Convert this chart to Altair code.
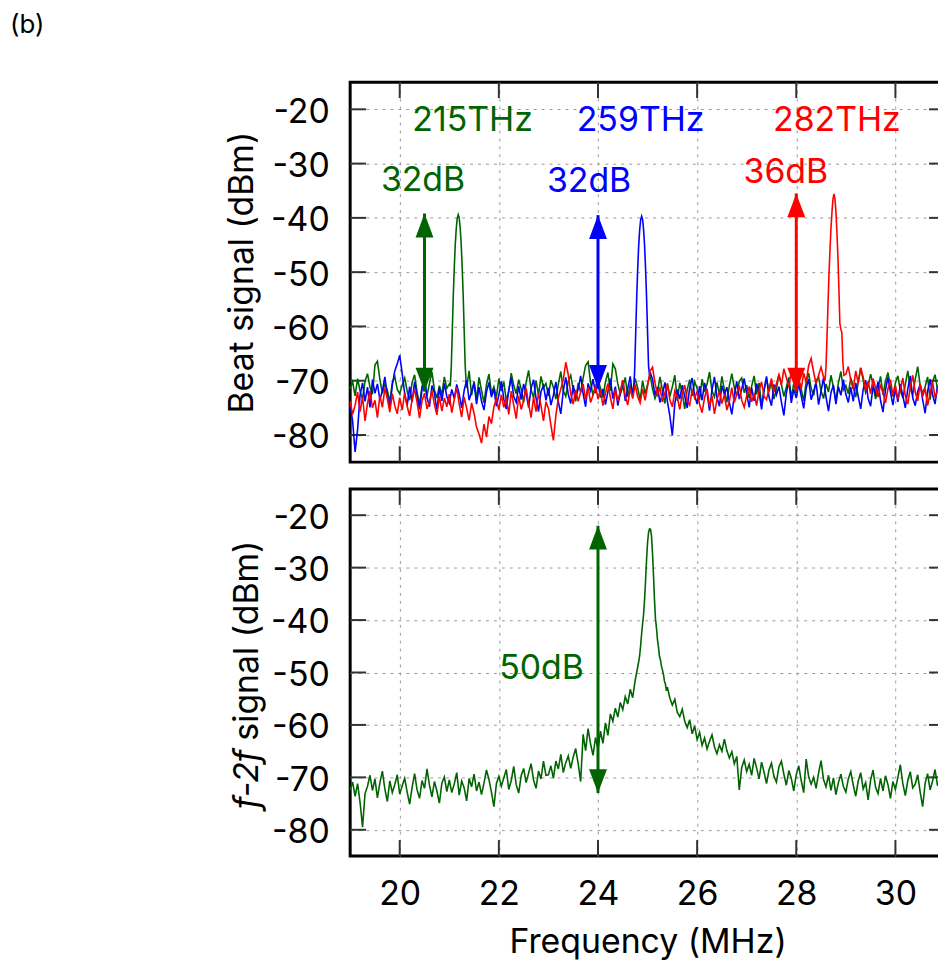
import altair as alt
import pandas as pd

FONT = "Inter"
GREEN = "#006400"
BLUE = "#0000ff"
RED = "#ff0000"

W = 598
H_TOP = 382
H_BOT = 369
TICK_LEN = 16
FS = 34
TFS = 34

x_domain = [19, 31]
y_domain = [-85, -15]
x_ticks = [20, 22, 24, 26, 28, 30]
y_ticks = [-80, -70, -60, -50, -40, -30, -20]

FREQ_START = 19.0
FREQ_STEP = 0.05
PEAK_STEP = 0.02

# ---- top panel: beat signals (dBm), 19.00 .. 31.00 MHz every 0.05 MHz ----
green_top = [
    -71.5, -70.2, -72.8, -69.6, -71.9, -73.4, -70.1, -68.7, -71.2, -72.5, -67.1, -66.4, -69.8, -72.3, -70.6, -71.8, -73.9, -70.4, -69.2, -71.6,
    -72.4, -70.8, -69.5, -71.9, -73.6, -70.3, -68.9, -72.1, -74.4, -71.0, -69.7, -72.8, -70.5, -68.4, -71.7, -73.2, -70.9, -72.6, -69.3, -71.4,
    -70.6, -69.9, -70.0, -70.0, -70.0, -70.0, -70.0, -71.3, -68.2, -72.7, -70.1, -73.5, -69.4, -71.8, -74.1, -70.7, -68.8, -72.3, -71.1, -73.0,
    -69.6, -71.9, -70.2, -73.7, -72.0, -68.6, -70.9, -72.4, -69.8, -71.5, -74.0, -70.3, -68.1, -71.7, -73.1, -70.0, -72.6, -69.2, -71.3, -70.5,
    -72.8, -69.9, -71.2, -73.4, -70.6, -68.3, -71.8, -72.9, -70.1, -69.0, -71.6, -73.8, -70.4, -72.2, -69.5, -67.2, -66.5, -70.3, -72.7, -71.0,
    -69.7, -71.4, -73.1, -70.2, -68.5, -71.9, -66.9, -67.8, -70.6, -72.5, -71.2, -69.4, -73.0, -70.8, -72.1, -69.6, -71.3, -73.6, -70.0, -72.4,
    -70.7, -68.9, -71.5, -73.3, -72.0, -69.3, -71.8, -74.2, -70.5, -72.9, -71.1, -69.0, -73.7, -70.4, -72.3, -75.2, -71.6, -69.8, -72.8, -70.2,
    -71.4, -73.5, -69.7, -72.1, -70.6, -68.4, -71.9, -73.0, -70.3, -72.6, -69.2, -71.7, -74.0, -70.9, -68.7, -71.3, -72.8, -70.1, -69.5, -72.2,
    -70.8, -73.2, -71.0, -69.1, -72.5, -70.4, -74.6, -71.7, -69.6, -72.0, -70.3, -73.4, -71.5, -68.9, -70.7, -72.9, -71.2, -69.4, -73.1, -70.5,
    -72.3, -69.8, -71.6, -73.7, -70.2, -68.6, -71.4, -72.7, -70.0, -69.3, -71.9, -73.3, -70.6, -72.1, -69.0, -71.2, -73.8, -70.4, -68.3, -71.7,
    -70.9, -72.4, -69.5, -71.1, -73.0, -70.3, -67.6, -69.9, -72.2, -71.0, -68.8, -70.7, -73.4, -71.5, -69.2, -72.6, -70.1, -68.5, -71.3, -72.9,
    -70.4, -69.1, -71.8, -73.2, -70.7, -68.2, -71.4, -72.6, -69.7, -67.4, -70.9, -72.3, -71.1, -69.3, -73.5, -70.2, -68.9, -71.6, -72.0, -70.5,
    -71.2,
]
blue_top = [
    -74.2, -77.5, -83.1, -79.0, -72.6, -70.4, -73.8, -71.2, -74.9, -69.8, -72.3, -70.6, -73.5, -71.9, -69.3, -72.7, -75.1, -70.8, -68.2, -66.9,
    -65.3, -68.7, -72.4, -74.6, -71.1, -73.9, -70.2, -72.8, -75.3, -71.5, -69.6, -73.1, -74.8, -70.9, -72.2, -75.6, -71.3, -73.7, -70.5, -72.9,
    -74.1, -71.6, -73.3, -70.7, -72.5, -75.0, -71.8, -69.9, -73.6, -72.0, -70.4, -74.3, -71.2, -73.8, -75.4, -72.1, -70.3, -73.0, -71.5, -74.7,
    -72.6, -70.1, -73.4, -75.2, -71.7, -69.5, -72.9, -74.0, -71.0, -73.5, -70.6, -72.3, -74.9, -71.4, -69.8, -73.2, -75.7, -72.0, -70.9, -73.6,
    -71.3, -74.5, -72.7, -70.2, -73.9, -76.1, -71.8, -69.4, -72.5, -74.2, -70.8, -73.0, -71.6, -69.1, -72.4, -74.8, -70.5, -71.9, -69.7, -72.3,
    -70.4, -73.1, -71.5, -74.4, -72.0, -69.6, -73.3, -71.1, -74.6, -72.2, -70.0, -73.7, -71.4, -69.2, -72.8, -70.0, -70.0, -70.0, -70.0, -70.0,
    -70.0, -68.4, -69.7, -72.6, -71.2, -74.0, -72.5, -70.3, -73.8, -76.5, -80.1, -74.2, -71.6, -73.4, -70.8, -72.9, -75.0, -71.3, -69.5, -72.7,
    -74.3, -71.0, -73.6, -70.4, -72.2, -75.5, -71.7, -69.3, -73.1, -74.7, -70.9, -72.5, -71.2, -74.0, -76.2, -72.8, -70.1, -73.4, -71.5, -69.6,
    -72.4, -74.9, -71.3, -73.7, -70.5, -72.1, -75.3, -71.8, -69.2, -73.0, -74.6, -70.7, -72.6, -71.1, -73.9, -76.4, -72.3, -70.0, -74.1, -71.6,
    -73.2, -70.6, -72.8, -75.1, -71.4, -69.7, -73.5, -72.0, -70.3, -74.4, -71.9, -69.5, -73.0, -75.6, -72.2, -70.8, -74.3, -71.1, -72.7, -69.8,
    -72.5, -74.0, -71.2, -73.8, -70.4, -72.9, -75.2, -71.6, -69.9, -73.3, -74.7, -71.0, -72.4, -70.2, -73.6, -75.8, -71.7, -69.4, -72.1, -74.5,
    -71.3, -73.9, -70.6, -72.8, -75.0, -71.5, -69.1, -73.2, -74.6, -72.0, -70.7, -73.5, -76.0, -71.9, -69.7, -72.6, -74.3, -70.9, -73.1, -71.4,
    -72.2,
]
red_top = [
    -73.8, -76.2, -74.5, -72.1, -75.7, -73.0, -77.4, -74.2, -71.9, -75.0, -73.6, -76.8, -72.7, -74.9, -71.4, -73.3, -75.8, -72.4, -74.6, -76.1,
    -73.1, -75.4, -72.2, -74.7, -76.5, -73.4, -71.6, -74.0, -76.9, -73.7, -72.3, -75.2, -73.9, -71.8, -74.4, -76.3, -72.9, -75.6, -73.2, -74.8,
    -72.5, -75.9, -73.5, -71.2, -74.3, -76.7, -73.0, -75.1, -77.3, -74.1, -76.0, -78.6, -79.8, -81.5, -78.0, -80.4, -76.6, -77.9, -74.8, -73.3,
    -75.4, -72.6, -74.9, -73.1, -76.2, -71.9, -74.5, -77.0, -72.8, -75.3, -73.6, -71.4, -74.2, -76.8, -73.0, -75.7, -72.3, -74.6, -77.4, -73.9,
    -75.1, -78.2, -81.0, -76.4, -73.2, -71.5, -69.8, -66.6, -68.9, -72.4, -74.3, -71.7, -73.8, -72.1, -70.6, -73.5, -71.2, -74.0, -72.7, -70.9,
    -73.4, -71.8, -74.6, -72.3, -70.5, -73.1, -75.2, -71.6, -73.7, -72.0, -69.9, -72.8, -74.5, -71.4, -73.3, -70.7, -72.9, -74.1, -71.5, -73.6,
    -71.0, -68.2, -67.5, -70.4, -72.6, -71.3, -73.9, -72.2, -70.6, -73.5, -74.8, -71.9, -73.0, -75.3, -72.4, -70.8, -73.7, -74.5, -71.6, -73.2,
    -72.0, -74.4, -75.9, -73.1, -71.5, -74.7, -72.8, -76.1, -73.5, -71.9, -74.2, -72.6, -75.4, -73.8, -71.3, -74.0, -72.5, -70.9, -73.6, -74.9,
    -72.7, -71.1, -73.9, -72.4, -74.6, -71.8, -70.2, -72.9, -73.5, -71.4, -69.6, -72.1, -70.5, -68.9, -70.8, -67.8, -69.4, -71.2, -68.1, -70.0,
    -67.9, -69.7, -71.5, -68.6, -70.3, -67.2, -65.9, -68.4, -70.6, -69.0, -67.5, -69.3, -70.0, -70.0, -70.0, -70.0, -70.0, -70.0, -70.0, -70.0,
    -68.8, -67.4, -69.9, -71.6, -68.2, -70.5, -67.7, -69.3, -71.8, -70.1, -72.4, -69.6, -71.3, -73.0, -70.7, -72.2, -74.1, -71.5, -69.8, -72.6,
    -70.9, -73.4, -71.7, -69.5, -72.8, -74.3, -71.2, -69.0, -72.1, -73.7, -70.6, -72.9, -71.4, -74.6, -72.3, -70.2, -73.1, -71.8, -69.7, -72.5,
    -71.6,
]
# carrier peaks, every 0.02 MHz
green_peak_start = 21.02
green_peak = [-71.0, -67.5, -61.0, -54.5, -49.3, -45.0, -42.0, -40.1, -39.4, -40.0, -41.9, -44.8, -49.0, -54.2, -60.6, -67.0, -70.5]
blue_peak_start = 24.72
blue_peak = [-71.5, -68.0, -61.5, -55.0, -49.6, -45.3, -42.3, -40.4, -39.7, -40.3, -42.2, -45.1, -49.4, -54.6, -61.0, -67.3, -69.0]
red_peak_start = 28.58
red_peak = [-70.0, -67.5, -62.0, -56.0, -50.5, -46.0, -42.0, -39.0, -36.6, -35.6, -36.4, -38.8, -42.5, -47.0, -53.0, -59.5, -60.5, -61.2, -66.5, -69.0]

# ---- bottom panel: f-2f signal (dBm) ----
f2f_left_start = 19.0   # every 0.05 MHz up to 24.80
f2f_left = [
    -72.4, -70.9, -73.6, -71.2, -74.8, -79.5, -73.1, -71.7, -69.6, -72.5, -70.3, -73.9, -71.0, -68.8, -72.2, -74.6, -70.7, -72.9, -71.4, -69.5,
    -73.2, -71.6, -70.2, -72.8, -75.1, -71.9, -69.3, -72.4, -74.0, -70.6, -72.1, -68.4, -71.5, -73.7, -70.8, -72.6, -74.9, -71.1, -69.9, -72.7,
    -70.5, -72.9, -71.3, -69.1, -73.4, -70.7, -72.0, -74.5, -70.2, -71.8, -69.4, -72.6, -70.9, -73.3, -71.1, -68.6, -70.4, -72.8, -75.6, -71.2,
    -69.8, -71.7, -70.1, -68.5, -72.3, -70.6, -67.9, -71.4, -73.0, -69.7, -68.3, -71.0, -69.2, -67.4, -70.5, -72.1, -68.8, -70.3, -66.9, -69.6,
    -69.5, -67.8, -70.2, -66.9, -68.4, -65.6, -69.1, -67.2, -65.9, -68.3, -66.1, -64.5, -67.4, -70.8, -61.8, -64.9, -60.7, -63.6, -65.8, -62.4,
    -64.7, -61.2, -63.5, -59.6, -62.0, -57.9, -59.3, -56.8, -58.5, -55.7, -57.1, -54.6, -56.0, -53.2, -54.8, -51.5, -49.0,
]
f2f_peak_start = 24.82  # every 0.02 MHz up to 25.40
f2f_peak = [
    -48.0, -46.8, -44.9, -42.6, -40.7, -38.9, -36.0, -32.4, -28.5, -25.2, -23.3, -22.6, -22.7, -24.0, -27.3,
    -31.5, -36.2, -39.8, -41.5, -43.8, -45.1, -46.9, -47.6, -48.8, -49.5, -50.3, -51.6, -52.2, -53.5, -52.8,
]
f2f_right_start = 25.45  # every 0.05 MHz up to 31.00
f2f_right = [
    -54.9, -56.2, -55.1, -57.6, -58.4, -57.0, -59.3, -60.5, -59.0, -61.7, -60.2,
    -62.8, -61.4, -63.9, -62.5, -64.6, -63.1, -61.9, -64.2, -65.5, -63.8, -65.0, -62.7, -64.9, -66.3, -65.1, -67.4, -66.0, -72.4, -68.1, -66.7,
    -68.9, -67.5, -69.6, -66.4, -68.2, -70.3, -67.1, -69.0, -71.2, -68.6, -67.3, -69.8, -70.9, -68.0, -66.9, -69.4, -71.5, -68.7, -70.2, -72.6,
    -69.5, -67.8, -70.6, -72.9, -66.5, -69.9, -71.3, -70.0, -72.1, -69.2, -66.8, -70.4, -71.8, -69.6, -72.5, -70.1, -73.3, -71.0, -69.4, -71.7,
    -72.8, -70.3, -68.9, -71.5, -73.6, -70.7, -69.1, -72.2, -71.0, -74.3, -70.5, -68.6, -71.9, -73.1, -70.2, -72.6, -69.7, -71.4, -74.0, -70.8,
    -72.3, -70.0, -67.6, -71.2, -73.5, -70.6, -68.9, -72.0, -71.3, -69.5, -72.8, -75.6, -71.1, -69.3, -72.4, -70.7, -68.5, -71.6, -70.1, -68.8,
    -70.3,
]

# ---- annotations ----
freq_labels = ["215THz", "259THz", "282THz"]
freq_label_x = [21.47, 24.86, 28.82]
freq_label_y = [-22.1, -22.1, -22.1]
db_labels = ["32dB", "32dB", "36dB"]
db_label_x = [20.47, 23.82, 27.79]
db_label_y = [-33.2, -33.4, -31.7]
label_colors = [GREEN, BLUE, RED]
arrow_x = [20.5, 24.0, 28.0]
arrow_top = [-39.2, -39.5, -35.5]
arrow_bottom = [-72.0, -71.5, -72.0]

f2f_arrow_x = [24.0]
f2f_arrow_top = [-22.0]
f2f_arrow_bottom = [-73.0]
f2f_label = ["50dB"]
f2f_label_x = [22.86]
f2f_label_y = [-49.4]


def series(vals, start, step):
    return pd.DataFrame({"f": [round(start + step * i, 3) for i in range(len(vals))], "v": vals})


def with_peak(noise, peak, peak_start):
    n = series(noise, FREQ_START, FREQ_STEP)
    p = series(peak, peak_start, PEAK_STEP)
    lo, hi = p["f"].min(), p["f"].max()
    n = n[(n["f"] < lo) | (n["f"] > hi)]
    return pd.concat([n, p]).sort_values("f").reset_index(drop=True)


green_df = with_peak(green_top, green_peak, green_peak_start)
blue_df = with_peak(blue_top, blue_peak, blue_peak_start)
red_df = with_peak(red_top, red_peak, red_peak_start)
f2f_df = pd.concat([
    series(f2f_left, f2f_left_start, FREQ_STEP),
    series(f2f_peak, f2f_peak_start, PEAK_STEP),
    series(f2f_right, f2f_right_start, FREQ_STEP),
]).sort_values("f").reset_index(drop=True)

GRID = dict(grid=True, gridColor="#9a9a9a", gridDash=[3, 5], gridWidth=1, gridOpacity=1,
            ticks=False, tickSize=0, domain=False)
HYPHEN_LABEL = "datum.value < 0 ? '-' + abs(datum.value) : '' + datum.value"


def xs():
    return alt.Scale(domain=x_domain, nice=False, zero=False)


def ys():
    return alt.Scale(domain=y_domain, nice=False, zero=False)


def x_axis(bottom):
    if bottom:
        return alt.Axis(values=x_ticks, labels=True, labelFont=FONT, labelFontSize=FS, labelColor="black",
                        labelPadding=22, title="Frequency (MHz)", titleFont=FONT, titleFontSize=TFS,
                        titleFontWeight="normal", titleColor="black", titleBaseline="alphabetic", titleY=97,
                        **GRID)
    return alt.Axis(values=x_ticks, labels=False, title=None, **GRID)


def y_axis(top):
    common = dict(values=y_ticks, labels=True, labelFont=FONT, labelFontSize=FS, labelColor="black",
                  labelPadding=21, labelOffset=3, labelExpr=HYPHEN_LABEL, **GRID)
    if top:
        return alt.Axis(title="Beat signal (dBm)", titleFont=FONT, titleFontSize=TFS, titleFontWeight="normal",
                        titleColor="black", titleAngle=270, titleX=-98, titleY=H_TOP / 2, titleAlign="center",
                        titleBaseline="alphabetic", **common)
    return alt.Axis(title=None, **common)


UP = "M0,0L-0.375,1L0.375,1Z"
DOWN = "M0,0L-0.375,-1L0.375,-1Z"
HEAD_SIZE = 2304


def panel(top, traces, arrows, texts, height, extra):
    X = lambda fld: alt.X(fld, type="quantitative", scale=xs(), axis=x_axis(not top))
    Y = lambda fld: alt.Y(fld, type="quantitative", scale=ys(), axis=y_axis(top))
    xt = pd.DataFrame({"t": x_ticks})
    yt = pd.DataFrame({"t": y_ticks})
    tick_color = "#333333"
    layers = [
        alt.Chart(yt).mark_rule(color=tick_color, strokeWidth=2).encode(
            y=Y("t"), x=alt.value(0), x2=alt.value(TICK_LEN)),
        alt.Chart(yt).mark_rule(color=tick_color, strokeWidth=2).encode(
            y=Y("t"), x=alt.value(W - TICK_LEN), x2=alt.value(W)),
        alt.Chart(xt).mark_rule(color=tick_color, strokeWidth=2).encode(
            x=X("t"), y=alt.value(0), y2=alt.value(TICK_LEN)),
        alt.Chart(xt).mark_rule(color=tick_color, strokeWidth=2).encode(
            x=X("t"), y=alt.value(height - TICK_LEN), y2=alt.value(height)),
    ]
    for df, col in traces:
        layers.append(alt.Chart(df).mark_line(color=col, strokeWidth=1.6).encode(x=X("f"), y=Y("v")))
    layers.append(alt.Chart(arrows).mark_rule(strokeWidth=3).encode(
        x=X("x"), y=Y("y1"), y2=alt.Y2("y2"), color=alt.Color("c:N", scale=None)))
    layers.append(alt.Chart(arrows).mark_point(shape=UP, size=HEAD_SIZE, filled=True, opacity=1, strokeWidth=0).encode(
        x=X("x"), y=Y("y1"), color=alt.Color("c:N", scale=None)))
    layers.append(alt.Chart(arrows).mark_point(shape=DOWN, size=HEAD_SIZE, filled=True, opacity=1, strokeWidth=0).encode(
        x=X("x"), y=Y("y2"), color=alt.Color("c:N", scale=None)))
    layers.append(alt.Chart(texts).mark_text(font=FONT, fontSize=FS, align="center", baseline="middle").encode(
        x=X("x"), y=Y("y"), text="label:N", color=alt.Color("c:N", scale=None)))
    layers.extend(extra)
    return alt.layer(*layers).properties(width=W, height=height)


top_arrows = pd.DataFrame({"x": arrow_x, "y1": arrow_top, "y2": arrow_bottom, "c": label_colors})
top_texts = pd.DataFrame({
    "x": freq_label_x + db_label_x,
    "y": freq_label_y + db_label_y,
    "label": freq_labels + db_labels,
    "c": label_colors + label_colors,
})
panel_tag = alt.Chart(pd.DataFrame({"label": ["(b)"]})).mark_text(
    font=FONT, fontSize=26, align="left", baseline="top", color="black").encode(
    x=alt.value(-342), y=alt.value(-70), text="label:N")

top = panel(True, [(green_df, GREEN), (blue_df, BLUE), (red_df, RED)], top_arrows, top_texts, H_TOP, [panel_tag])

bot_arrows = pd.DataFrame({"x": f2f_arrow_x, "y1": f2f_arrow_top, "y2": f2f_arrow_bottom, "c": [GREEN]})
bot_texts = pd.DataFrame({"x": f2f_label_x, "y": f2f_label_y, "label": f2f_label, "c": [GREEN]})

title_split = 262
title_italic = alt.Chart(pd.DataFrame({"label": ["f-2f"]})).mark_text(
    font=FONT, fontSize=TFS, fontStyle="italic", angle=270, align="right", baseline="alphabetic", color="black").encode(
    x=alt.value(-93), y=alt.value(title_split), text="label:N")
title_rest = alt.Chart(pd.DataFrame({"label": ["signal (dBm)"]})).mark_text(
    font=FONT, fontSize=TFS, angle=270, align="left", baseline="alphabetic", color="black").encode(
    x=alt.value(-93), y=alt.value(title_split - 9), text="label:N")

bottom = panel(False, [(f2f_df, GREEN)], bot_arrows, bot_texts, H_BOT, [title_italic, title_rest])

chart = alt.vconcat(top, bottom, spacing=21).properties(
    padding={"left": 0, "top": 0, "right": -12, "bottom": 0}
).configure_view(stroke="black", strokeWidth=3)

chart.save("out.html", embed_options={"renderer": "svg", "actions": False})
